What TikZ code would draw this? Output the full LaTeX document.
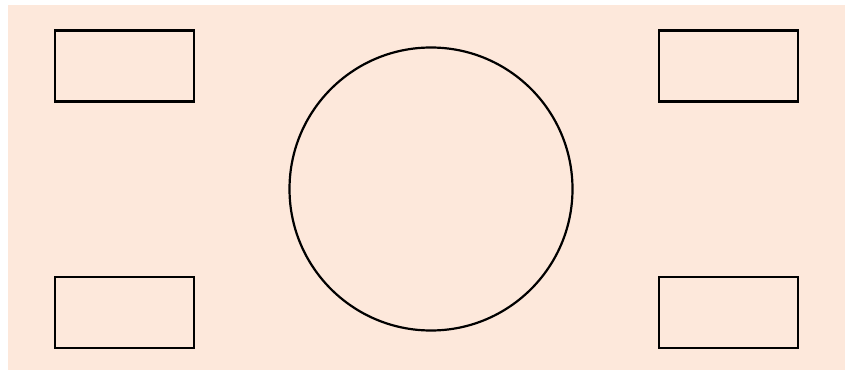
\documentclass[tikz,border=0pt]{standalone}
\definecolor{peach}{RGB}{253,232,219}
\tikzset{
  box/.style={draw=black, line width=2.2pt, minimum width=139pt, minimum height=71pt, inner sep=0pt},
  disc/.style={draw=black, line width=2.2pt, circle, minimum size=283pt, inner sep=0pt}
}
\begin{document}
\begin{tikzpicture}[x=1pt,y=-1pt]
\useasboundingbox (0,0) rectangle (845,371);
\fill[peach] (8,5) rectangle (845,370);
\node[box] (tl) at (124.5,66) {};
\node[box] (bl) at (124.5,312.5) {};
\node[box] (tr) at (728.5,66) {};
\node[box] (br) at (728.5,312.5) {};
\node[disc] (c) at (431,189) {};
\end{tikzpicture}
\end{document}
